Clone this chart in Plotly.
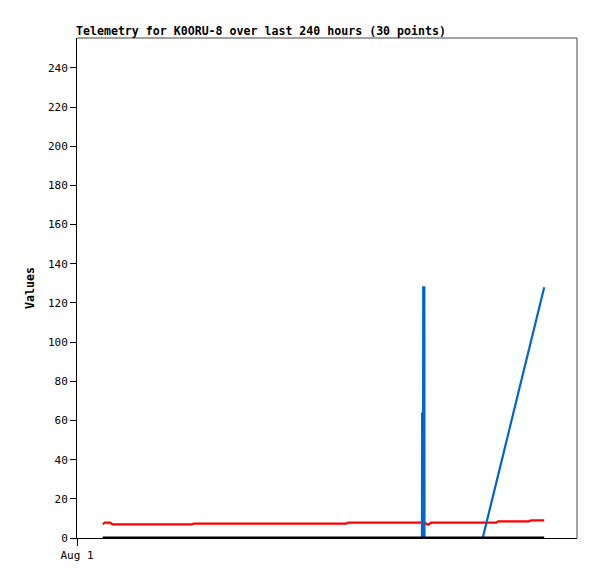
import plotly.graph_objects as go
from datetime import datetime, timedelta

# Time offsets in hours since first sample (first sample = Aug 1 14:00)
start = datetime(2023, 8, 1, 14, 0)

red_hours = [0, 1.1, 3.8, 5.4, 48.3, 49.4, 132.1, 133.2, 174.5, 176.7, 178.3, 213.6, 214.7, 231.5, 232.6, 239.7]
red_vals = [7.0, 7.8, 7.8, 7.0, 7.0, 7.3, 7.3, 7.8, 7.8, 6.8, 7.8, 7.8, 8.5, 8.5, 9.0, 9.0]

blue_hours = [0, 173.3, 173.4, 173.5, 173.9, 174.0, 174.6, 174.7, 206.3, 239.7]
blue_vals = [0, 0, 64, 0, 0, 128, 128, 0, 0, 128]

black_hours = [0, 239.7]
black_vals = [0, 0]

x_start = datetime(2023, 8, 1, 0, 0)
x_end = x_start + timedelta(hours=271.5)
y_max = 255.3

y_ticks = [0, 20, 40, 60, 80, 100, 120, 140, 160, 180, 200, 220, 240]
x_tick_labels = ["Aug 1"]

def to_t(hs):
    return [start + timedelta(hours=h) for h in hs]

fig = go.Figure()
fig.add_trace(go.Scatter(x=to_t(red_hours), y=red_vals, mode="lines",
                         line=dict(color="#ff0000", width=2.2), showlegend=False))
fig.add_trace(go.Scatter(x=to_t(blue_hours), y=blue_vals, mode="lines",
                         line=dict(color="#0066cc", width=2.2), showlegend=False))
fig.add_trace(go.Scatter(x=to_t(black_hours), y=black_vals, mode="lines",
                         line=dict(color="#000000", width=3), showlegend=False))

font_family = "DejaVu Sans Mono"
W, H = 589, 571  # page adds an 8px body margin
fig.update_layout(
    width=W, height=H,
    margin=dict(l=69, r=20, t=30, b=41),
    paper_bgcolor="white", plot_bgcolor="white",
    font=dict(family=font_family, size=11, color="black"),
    title=dict(text="<b>Telemetry for K0ORU-8 over last 240 hours (30 points)</b>",
               x=68/W, xanchor="left", y=1-23/H, yanchor="middle",
               font=dict(family=font_family, size=11.6, color="black")),
    xaxis=dict(range=[x_start, x_end], type="date", automargin=False,
               tickvals=[x_start], ticktext=x_tick_labels,
               ticks="outside", ticklen=7, tickcolor="black",
               showgrid=False, zeroline=False,
               showline=True, linecolor="black", linewidth=1, mirror=False,
               tickfont=dict(family=font_family, size=11)),
    yaxis=dict(range=[0, y_max], tickvals=y_ticks, automargin=False,
               ticks="outside", ticklen=6, tickcolor="black",
               showgrid=False, zeroline=False,
               showline=True, linecolor="black", linewidth=1, mirror=False,
               title=dict(text="<b>Values</b>", standoff=10,
                          font=dict(family=font_family, size=11.6)),
               tickfont=dict(family=font_family, size=11)),
    shapes=[
        dict(type="line", xref="paper", yref="paper", x0=0, x1=1, y0=1, y1=1,
             line=dict(color="#444444", width=1)),
        dict(type="line", xref="paper", yref="paper", x0=1, x1=1, y0=0, y1=1,
             line=dict(color="#444444", width=1)),
    ],
)

fig.write_html("out.html")
